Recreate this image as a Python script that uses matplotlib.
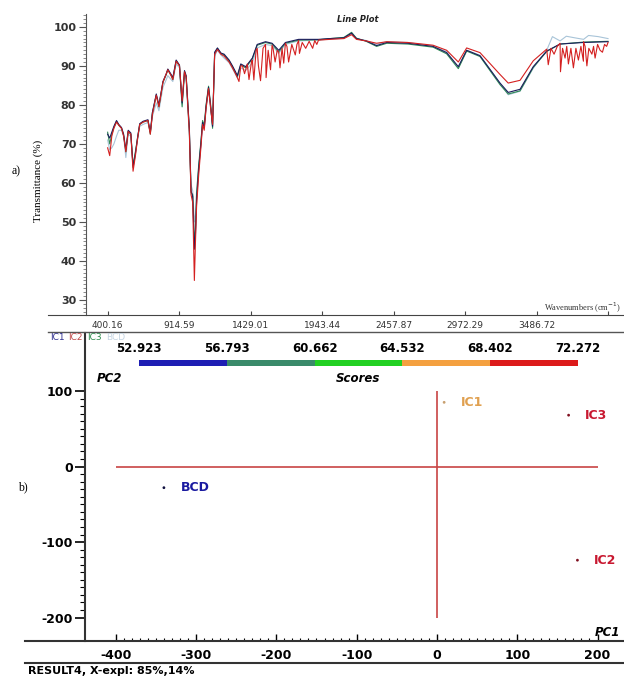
"""
FTIR line plot + PCA scores plot (two panels, a / b)
"""

import numpy as np
import matplotlib
matplotlib.use("Agg")
import matplotlib.pyplot as plt
from matplotlib.lines import Line2D
from matplotlib.ticker import MultipleLocator, FixedLocator

plt.rcParams["font.family"] = ["DejaVu Sans"]
plt.rcParams["axes.unicode_minus"] = False

# ---- panel a: spectra ----
wavenumber = [
    400, 415, 430, 445, 464, 480, 500, 515, 531, 548,
    567, 583, 600, 615, 631, 655, 690, 707, 722, 750,
    769, 798, 822, 833, 857, 869, 893, 917, 936, 953,
    965, 988, 1000, 1012, 1024, 1032, 1040, 1055, 1072, 1083,
    1095, 1108, 1126, 1140, 1155, 1170, 1190, 1215, 1238, 1274,
    1298, 1320, 1333, 1358, 1393, 1441, 1476, 1536, 1583, 1631,
    1679, 1774, 1917, 2000, 2100, 2155, 2190, 2260, 2335, 2408,
    2560, 2741, 2839, 2923, 2983, 3079, 3223, 3282, 3367, 3462,
    3559, 3655, 3824, 4000,
]
ic1 = [
    72.5, 71.5, 73.0, 74.5, 76.0, 75.0, 74.2, 72.5, 68.5, 73.5,
    72.8, 64.0, 67.5, 71.5, 75.2, 75.8, 76.2, 73.0, 78.0, 82.8,
    80.0, 86.0, 88.0, 89.2, 87.8, 87.0, 91.5, 90.2, 80.5, 88.8,
    87.5, 74.0, 58.0, 56.5, 43.0, 47.0, 55.5, 63.5, 70.5, 75.5,
    74.2, 79.5, 84.5, 80.0, 74.5, 93.5, 94.6, 93.3, 93.0, 91.5,
    90.0, 88.5, 87.5, 90.5, 89.8, 92.0, 95.5, 96.2, 95.8, 94.0,
    96.0, 96.8, 96.8, 97.0, 97.2, 98.4, 97.0, 96.4, 95.2, 96.0,
    95.8, 95.0, 93.4, 89.8, 94.0, 92.6, 85.6, 83.2, 84.0, 89.8,
    93.8, 95.6, 96.0, 96.2,
]
ic2 = [
    69.0, 67.0, 72.0, 74.0, 75.6, 74.8, 74.0, 72.0, 68.0, 73.2,
    72.5, 63.0, 67.0, 71.2, 75.0, 75.6, 76.0, 72.5, 77.5, 82.5,
    79.5, 85.8, 88.0, 89.0, 87.5, 86.5, 91.2, 90.0, 81.0, 88.5,
    87.0, 73.0, 57.0, 55.0, 35.0, 45.0, 54.0, 62.0, 69.5, 75.0,
    73.5, 79.0, 84.2, 79.5, 75.0, 93.0, 94.2, 93.0, 92.5, 91.0,
    89.5, 88.0, 87.0, 90.0, 89.0, 91.5, 94.5, 95.5, 95.3, 93.5,
    95.8, 96.5, 96.6, 96.8, 97.0, 98.0, 96.8, 96.4, 95.8, 96.2,
    96.0, 95.3, 94.0, 91.0, 94.6, 93.4, 87.8, 85.6, 86.3, 91.3,
    94.3, 95.8, 96.2, 96.0,
]
ic3 = [
    73.0, 70.0, 72.5, 74.2, 75.8, 74.8, 74.0, 72.2, 68.0, 73.2,
    72.5, 64.5, 68.0, 71.5, 75.0, 75.6, 76.0, 72.5, 78.0, 82.5,
    79.5, 85.8, 87.8, 89.0, 87.5, 86.5, 91.3, 90.0, 79.5, 88.5,
    87.2, 73.5, 57.5, 57.0, 45.0, 48.0, 57.0, 64.5, 71.0, 76.0,
    74.8, 80.0, 84.8, 80.5, 74.0, 93.3, 94.5, 93.2, 92.8, 91.3,
    89.8, 88.2, 87.2, 90.3, 89.5, 91.8, 95.3, 96.0, 95.6, 93.6,
    95.8, 96.6, 96.7, 97.0, 97.3, 98.6, 97.1, 96.3, 95.0, 95.8,
    95.6, 94.8, 93.1, 89.3, 93.8, 92.4, 85.2, 82.8, 83.6, 89.6,
    93.7, 95.6, 96.1, 96.3,
]
bcd = [
    71.0, 68.5, 69.0, 70.0, 72.0, 73.5, 73.5, 72.0, 66.5, 72.5,
    72.0, 64.5, 68.0, 71.0, 74.5, 75.0, 75.5, 73.0, 77.0, 80.5,
    78.5, 84.5, 86.5, 87.5, 86.5, 86.0, 90.5, 89.5, 80.0, 87.5,
    86.5, 72.0, 59.5, 58.0, 50.0, 52.0, 58.0, 64.0, 70.0, 75.0,
    74.0, 79.0, 84.0, 79.5, 74.5, 92.5, 94.0, 92.8, 92.0, 90.8,
    89.3, 87.8, 87.0, 89.5, 88.8, 90.8, 94.6, 95.5, 95.2, 93.2,
    95.5, 96.4, 96.6, 96.9, 97.1, 98.2, 97.0, 96.5, 95.5, 96.2,
    96.0, 95.1, 93.6, 89.6, 94.0, 92.7, 85.5, 82.6, 83.5, 89.4,
    94.0, 96.4, 96.8, 97.0,
]
# water-vapour spikes seen on the IC2 trace
ic2_noise_wn = [
    1345, 1370, 1385, 1405, 1417, 1435, 1452, 1468, 1485, 1500,
    1518, 1540, 1555, 1572, 1590, 1605, 1620, 1640, 1655, 1667,
    1690, 1702, 1725, 1750, 1762, 1780, 1800, 1825, 1850, 1875,
    1890, 1905,
    3570, 3590, 3612, 3635, 3658, 3673, 3691, 3703, 3715, 3733,
    3751, 3769, 3787, 3805, 3823, 3835, 3848, 3862, 3884, 3896,
    3907, 3925, 3943, 3960, 3975, 3990,
]
ic2_noise_t = [
    86.0, 90.0, 88.0, 90.5, 86.5, 91.0, 86.4, 94.0, 90.0, 86.2,
    94.5, 87.0, 94.0, 89.0, 94.5, 91.0, 94.0, 89.5, 94.5, 90.7,
    95.0, 91.0, 95.5, 92.8, 95.5, 93.2, 96.0, 94.5, 96.3, 94.5,
    96.5, 95.5,
    90.3, 94.5, 93.0, 95.0, 88.5, 94.5, 92.0, 95.0, 90.5, 94.5,
    89.5, 94.5, 91.5, 95.0, 91.2, 95.0, 90.0, 94.5, 93.0, 95.0,
    92.0, 95.5, 94.0, 93.5, 95.5, 95.0,
]
bcd_noise_wn = [3600, 3700, 3760, 3860, 3930]
bcd_noise_t = [97.5, 97.6, 97.2, 97.8, 97.5]

wn_ticks = [400.16, 914.59, 1429.01, 1943.44, 2457.87, 2972.29, 3486.72, 4001.15]
wn_labels = ["400.16", "914.59", "1429.01", "1943.44", "2457.87", "2972.29", "3486.72", ""]

series_names = ["IC1", "IC2", "IC3", "BCD"]
series_colors = ["#1c1c5c", "#d42020", "#2f8a55", "#a8c4d8"]
legend_colors = ["#303090", "#c04848", "#2a8a4a", "#c4d4e2"]

# ---- panel b: PCA scores ----
score_names = ["BCD", "IC1", "IC3", "IC2"]
pc1 = [-340, 9, 164, 175]
pc2 = [-28, 85, 68, -124]
dot_colors = ["#101040", "#c8a070", "#801020", "#801020"]
label_colors = ["#1a1aa0", "#e0a050", "#c81830", "#c81830"]

score_levels = [52.923, 56.793, 60.662, 64.532, 68.402, 72.272]
level_colors = ["#1e1eb4", "#3a8a6a", "#22d022", "#f4a040", "#dc1a1a"]

W, H = 624, 680


def fx(px):
    return px / W


def fy(py):
    return 1 - py / H


fig = plt.figure(figsize=(W / 100, H / 100), dpi=100)

# ================= a) =================
ax1 = fig.add_axes([fx(48), fy(315), (624 - 48) / W, (315 - 14) / H])
bx = np.concatenate([wavenumber, bcd_noise_wn])
by = np.concatenate([bcd, bcd_noise_t])
o = np.argsort(bx)
ax1.plot(bx[o], by[o], color=series_colors[3], lw=0.8, zorder=2)
ax1.plot(wavenumber, ic3, color=series_colors[2], lw=0.8, zorder=3)
ax1.plot(wavenumber, ic1, color=series_colors[0], lw=0.8, zorder=4)
rx = np.concatenate([wavenumber, ic2_noise_wn])
ry = np.concatenate([ic2, ic2_noise_t])
o = np.argsort(rx)
ax1.plot(rx[o], ry[o], color=series_colors[1], lw=0.8, zorder=5)

ax1.set_xlim(-29, 4115)
ax1.set_ylim(26.15, 103.3)
for s in ["top", "right"]:
    ax1.spines[s].set_visible(False)
ax1.spines["left"].set_position(("data", 244))
ax1.spines["left"].set_color("#555555")
ax1.spines["bottom"].set_color("#444444")
ax1.set_xticks(wn_ticks)
ax1.set_xticklabels(wn_labels)
ax1.tick_params(axis="x", direction="in", length=3, labelsize=6.5, pad=4,
                colors="#444444", labelcolor="#333333")
ax1.set_yticks(range(30, 101, 10))
ax1.yaxis.set_minor_locator(MultipleLocator(1))
ax1.tick_params(axis="y", which="major", direction="out", length=5, pad=2,
                labelsize=8, colors="#555555", labelcolor="#333333")
ax1.tick_params(axis="y", which="minor", direction="out", length=2.5, colors="#777777")
for t in ax1.get_yticklabels():
    t.set_fontweight("bold")

fig.text(fx(358), fy(20), "Line Plot", fontsize=6, fontweight="bold",
         fontstyle="italic", ha="center", va="center", color="#222222")
fig.text(fx(621), fy(308), "Wavenumbers (cm$^{-1}$)", fontsize=6,
         family="Liberation Serif", ha="right", va="center", color="#333333")
fig.text(fx(38), fy(181), "Transmittance (%)", fontsize=8, rotation=90,
         family="Liberation Serif", ha="center", va="center")
fig.text(fx(16), fy(171), "a)", fontsize=8.5, family="Liberation Serif",
         ha="center", va="center")
fig.add_artist(Line2D([fx(48), 1], [fy(332), fy(332)], color="#555555", lw=1))

legend_x = [50, 68, 87, 106]
for name, c, x in zip(series_names, legend_colors, legend_x):
    fig.text(fx(x), fy(337), name, fontsize=6.5, color=c, ha="left", va="center")

# ================= b) =================
ax2 = fig.add_axes([fx(25), fy(641), (624 - 25) / W, (641 - 333) / H])
ax2.hlines(0, -400, 200, color="#c84444", lw=1.2, zorder=1)
ax2.vlines(0, -200, 100, color="#c84444", lw=1.2, zorder=1)
ax2.scatter(pc1, pc2, s=4, c=dot_colors, zorder=3, linewidths=0)
for name, x, y, c in zip(score_names, pc1, pc2, label_colors):
    ax2.annotate(name, (x, y), xytext=(12, 0), textcoords="offset points",
                 fontsize=9, fontweight="bold", color=c, ha="left", va="center")

ax2.set_xlim(-513, 233)
ax2.set_ylim(-231, 176.8)
for s in ["top", "right"]:
    ax2.spines[s].set_visible(False)
ax2.spines["left"].set_position(("data", -438))
ax2.spines["left"].set_linewidth(1.5)
ax2.spines["left"].set_color("#333333")
ax2.spines["bottom"].set_linewidth(1.5)
ax2.spines["bottom"].set_color("#333333")
ax2.set_xticks(range(-400, 201, 100))
ax2.xaxis.set_minor_locator(FixedLocator(np.arange(-400, 201, 10)))
ax2.set_yticks([-200, -100, 0, 100])
ax2.yaxis.set_minor_locator(FixedLocator(np.arange(-200, 101, 10)))
ax2.tick_params(axis="x", which="major", direction="in", length=5, width=1,
                pad=6, labelsize=9)
ax2.tick_params(axis="x", which="minor", direction="in", length=2.5, width=0.8)
ax2.tick_params(axis="y", which="major", direction="out", length=7, width=1.2,
                pad=2, labelsize=9)
ax2.tick_params(axis="y", which="minor", direction="out", length=3.5, width=0.8)
for t in ax2.get_xticklabels() + ax2.get_yticklabels():
    t.set_fontweight("bold")

# score colour scale
axc = fig.add_axes([fx(139), fy(366), (578 - 139) / W, 6 / H])
widths = np.diff(score_levels)
axc.barh(0, widths, left=score_levels[:-1], height=1, color=level_colors)
axc.set_xlim(score_levels[0], score_levels[-1])
axc.set_ylim(-0.5, 0.5)
axc.set_xticks(score_levels)
axc.set_xticklabels([f"{v:.3f}" for v in score_levels])
axc.xaxis.tick_top()
axc.tick_params(axis="x", length=0, pad=3.5, labelsize=8.5)
for t in axc.get_xticklabels():
    t.set_fontweight("bold")
axc.set_yticks([])
for s in axc.spines.values():
    s.set_visible(False)

fig.text(fx(97), fy(378), "PC2", fontsize=8.5, fontweight="bold",
         fontstyle="italic", ha="left", va="center")
fig.text(fx(358), fy(378), "Scores", fontsize=8.5, fontweight="bold",
         fontstyle="italic", ha="center", va="center")
fig.text(fx(620), fy(632), "PC1", fontsize=8.5, fontweight="bold",
         fontstyle="italic", ha="right", va="center")
fig.text(fx(23), fy(487), "b)", fontsize=8.5, family="Liberation Serif",
         ha="center", va="center")
fig.add_artist(Line2D([fx(25), 1], [fy(663), fy(663)], color="#333333", lw=1.5))
fig.text(fx(28), fy(671), "RESULT4, X-expl: 85%,14%", fontsize=8,
         fontweight="bold", ha="left", va="center")

fig.savefig("out.png", dpi=100)
